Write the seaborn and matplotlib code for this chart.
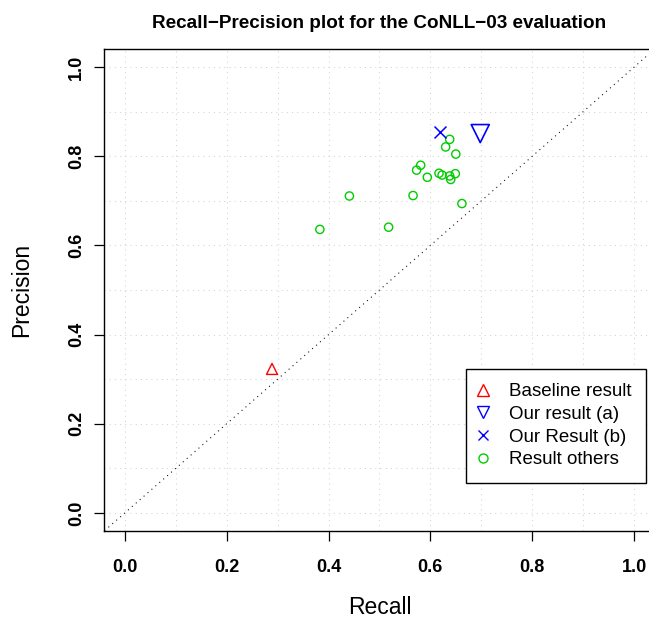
import matplotlib
matplotlib.use("Agg")
import matplotlib.pyplot as plt
from matplotlib.lines import Line2D
import numpy as np
import pandas as pd
import seaborn as sns

# ---------------- data ----------------
title_text = "Recall\u2212Precision plot for the CoNLL\u221203 evaluation"
x_label = "Recall"
y_label = "Precision"
series_names = ["Baseline result", "Our result (a)", "Our Result (b)", "Result others"]

baseline_recall = [0.289]
baseline_precision = [0.323]

our_a_recall = [0.698]
our_a_precision = [0.851]

our_b_recall = [0.619]
our_b_precision = [0.855]

others_recall = [0.638, 0.630, 0.650, 0.581, 0.573, 0.594, 0.617, 0.623,
                 0.638, 0.640, 0.649, 0.441, 0.566, 0.662, 0.383, 0.518]
others_precision = [0.838, 0.821, 0.805, 0.780, 0.769, 0.753, 0.762, 0.758,
                    0.756, 0.748, 0.761, 0.711, 0.712, 0.694, 0.636, 0.641]

tick_values = [0.0, 0.2, 0.4, 0.6, 0.8, 1.0]
tick_labels = ["0.0", "0.2", "0.4", "0.6", "0.8", "1.0"]
grid_values = [0.0, 0.1, 0.2, 0.3, 0.4, 0.5, 0.6, 0.7, 0.8, 0.9, 1.0]

# ---------------- style ----------------
plt.rcParams['font.family'] = ['Liberation Sans', 'DejaVu Sans']

fig = plt.figure(figsize=(6.49, 6.19), dpi=100)
ax = fig.add_axes([0.161, 0.1426, 0.8473, 0.7777])

ax.set_xlim(-0.04, 1.04)
ax.set_ylim(-0.04, 1.04)

# grid
ax.set_xticks(grid_values, minor=True)
ax.set_yticks(grid_values, minor=True)
ax.grid(which='both', color='#D3D3D3', linestyle=(0, (1, 4)), linewidth=0.75, zorder=0)
ax.set_axisbelow(True)

# diagonal reference line
ax.axline((0, 0), slope=1, color='black', linestyle=(0, (1, 4)), linewidth=0.75, zorder=1)

red = '#FF0000'
blue = '#0000FF'
green = '#00CD00'

others_df = pd.DataFrame({'recall': others_recall, 'precision': others_precision})
sns.scatterplot(data=others_df, x='recall', y='precision', marker='o', s=35,
                facecolors='none', edgecolor=green, linewidth=1.0, ax=ax,
                legend=False, zorder=3)

base_df = pd.DataFrame({'recall': baseline_recall, 'precision': baseline_precision})
sns.scatterplot(data=base_df, x='recall', y='precision', marker='^', s=63,
                facecolors='none', edgecolor=red, linewidth=1.0, ax=ax,
                legend=False, zorder=3)

a_df = pd.DataFrame({'recall': our_a_recall, 'precision': our_a_precision})
sns.scatterplot(data=a_df, x='recall', y='precision', marker='v', s=169,
                facecolors='none', edgecolor=blue, linewidth=1.2, ax=ax,
                legend=False, zorder=3)

b_df = pd.DataFrame({'recall': our_b_recall, 'precision': our_b_precision})
sns.scatterplot(data=b_df, x='recall', y='precision', marker='x', s=74,
                color=blue, linewidth=1.1, ax=ax, legend=False, zorder=3)

# ticks
ax.set_xticks(tick_values, tick_labels)
ax.set_yticks(tick_values, tick_labels)
ax.tick_params(which='major', direction='out', length=7, width=0.9, color='black',
               labelsize=13)
ax.tick_params(which='minor', length=0)
ax.tick_params(axis='x', which='major', pad=13)
ax.tick_params(axis='y', which='major', pad=6.8)
for lbl in ax.get_xticklabels():
    lbl.set_fontweight('bold')
for lbl in ax.get_yticklabels():
    lbl.set_fontweight('bold')
    lbl.set_rotation(90)
    lbl.set_va('center')
    lbl.set_ha('right')

for sp in ax.spines.values():
    sp.set_color('black')
    sp.set_linewidth(1.0)

# labels
ax.set_xlabel(x_label, fontsize=16.5, va='baseline')
ax.xaxis.set_label_coords(0.5, -0.1735)
ax.set_ylabel(y_label, fontsize=16.5, va='center', ha='center')
ax.yaxis.set_label_coords(-0.151, 0.5)
ax.set_title(title_text, fontsize=13.6, fontweight='bold', y=1.0438, pad=0)

# legend
handles = [
    Line2D([], [], marker='^', linestyle='none', markerfacecolor='none',
           markeredgecolor=red, markersize=8, markeredgewidth=1.0),
    Line2D([], [], marker='v', linestyle='none', markerfacecolor='none',
           markeredgecolor=blue, markersize=8, markeredgewidth=1.0),
    Line2D([], [], marker='x', linestyle='none', color=blue,
           markersize=7.5, markeredgewidth=1.0),
    Line2D([], [], marker='o', linestyle='none', markerfacecolor='none',
           markeredgecolor=green, markersize=6.5, markeredgewidth=1.0),
]
leg = ax.legend(handles, series_names, loc='upper left',
                bbox_to_anchor=(466 / 649, (619 - 369) / 619),
                bbox_transform=fig.transFigure, borderaxespad=0,
                fontsize=13.5, frameon=True, fancybox=False, framealpha=1,
                edgecolor='black', borderpad=0.75, labelspacing=0.3,
                handlelength=0.35, handletextpad=1.19)
leg.get_frame().set_linewidth(1.0)

fig.savefig('out.png', dpi=100)
